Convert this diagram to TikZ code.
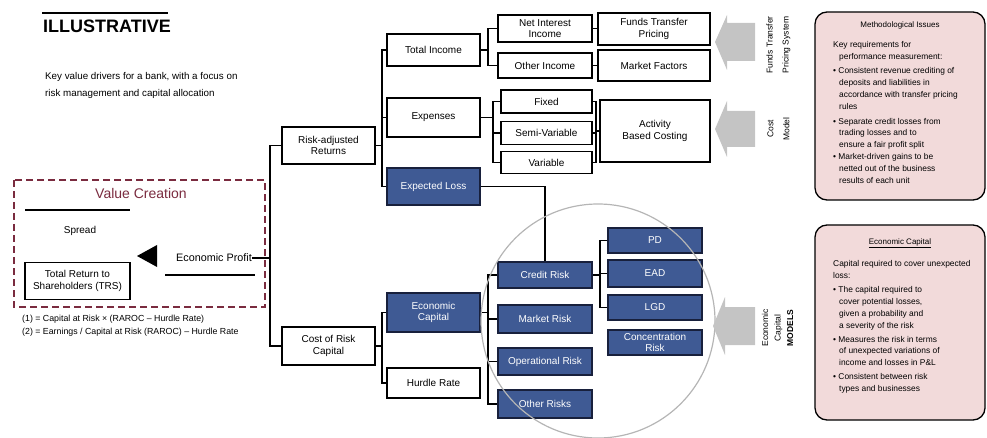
\documentclass[tikz,border=0pt]{standalone}
\usepackage{fontspec}
\setmainfont{Liberation Sans}
\definecolor{navy}{HTML}{3F5A94}
\definecolor{navyedge}{HTML}{18203C}
\definecolor{wine}{HTML}{7A2B3F}
\definecolor{pinkbg}{HTML}{F2DADA}
\definecolor{greyarrow}{HTML}{C4C4C4}
\definecolor{ringgrey}{HTML}{B5B5B5}
\begin{document}
\begin{tikzpicture}[x=1pt,y=-1pt,
  tbox/.style={draw=black, line width=1.6pt, fill=white, align=center, inner sep=1pt, font=\fontsize{10}{11.5}\selectfont},
  bbox/.style={tbox, draw=navyedge, fill=navy, text=white},
  conn/.style={line width=1.6pt},
  note/.style={draw=black, line width=1.3pt, fill=pinkbg, rounded corners=12pt},
  notetext/.style={anchor=north west, align=left, inner sep=0pt, font=\fontsize{8.4}{11.8}\selectfont},
  vlab/.style={rotate=90, align=center, inner sep=0pt, font=\fontsize{8.5}{16}\selectfont},
  plain/.style={inner sep=0pt, align=left},
]
\useasboundingbox (0,0) rectangle (987,438);

% header
\draw[line width=2pt] (42,13) -- (168,13);
\node[plain, anchor=west, font=\fontsize{18}{20}\selectfont\bfseries] (ill) at (43,26) {ILLUSTRATIVE};
\node[plain, anchor=north west, font=\fontsize{9.8}{17}\selectfont] (sub) at (45,72) {Key value drivers for a bank, with a focus on\\risk management and capital allocation};

% value creation frame
\draw[wine, line width=2.5pt, dash pattern=on 7pt off 4pt] (14,180) rectangle (265,307);
\node[plain, text=wine, font=\fontsize{14}{16}\selectfont] (vc) at (141,193) {Value Creation};
\draw[line width=1.6pt] (25,210) -- (130,210);
\node[plain, font=\fontsize{10}{11}\selectfont] (spread) at (80,231) {Spread};
\node[tbox, minimum width=105, minimum height=37] (trs) at (77.5,281) {Total Return to\\Shareholders (TRS)};
\fill (137,256) -- (157,245) -- (157,267) -- cycle;
\node[plain, font=\fontsize{10.8}{12}\selectfont] (ep) at (214,258) {Economic Profit};
\draw[line width=1.6pt] (165,275) -- (255,275);
\node[plain, anchor=north west, font=\fontsize{8.8}{12.5}\selectfont] (fn) at (22,315) {(1) = Capital at Risk × (RAROC – Hurdle Rate)\\(2) = Earnings / Capital at Risk (RAROC) – Hurdle Rate};

% tree level 1
\node[tbox, minimum width=93, minimum height=37] (rar) at (328.5,145.5) {Risk-adjusted\\Returns};
\node[tbox, minimum width=93, minimum height=38] (crc) at (328.5,346) {Cost of Risk\\Capital};
% level 2
\node[tbox, minimum width=93, minimum height=32] (ti) at (433.5,50) {Total Income};
\node[tbox, minimum width=93, minimum height=39] (ex) at (433.5,117.5) {Expenses};
\node[bbox, minimum width=93, minimum height=37] (el) at (433.5,186.5) {Expected Loss};
\node[bbox, minimum width=93, minimum height=39] (ec) at (433.5,312.5) {Economic\\Capital};
\node[tbox, minimum width=93, minimum height=30] (hr) at (433.5,383) {Hurdle Rate};
% level 3
\node[tbox, minimum width=94, minimum height=27] (nii) at (545,28.5) {Net Interest\\Income};
\node[tbox, minimum width=94, minimum height=25] (oi) at (545,65.5) {Other Income};
\node[tbox, minimum width=91, minimum height=23] (fx) at (546.5,101.5) {Fixed};
\node[tbox, minimum width=91, minimum height=23] (sv) at (546.5,133) {Semi-Variable};
\node[tbox, minimum width=91, minimum height=22] (va) at (546.5,162.5) {Variable};
\node[bbox, minimum width=94, minimum height=26] (cr) at (545,275) {Credit Risk};
\node[bbox, minimum width=94, minimum height=28] (mr) at (545,319) {Market Risk};
\node[bbox, minimum width=94, minimum height=27] (or) at (545,361.5) {Operational Risk};
\node[bbox, minimum width=94, minimum height=28] (ot) at (545,404) {Other Risks};
% level 4
\node[tbox, minimum width=112, minimum height=32] (ftp) at (654,29) {Funds Transfer\\Pricing};
\node[tbox, minimum width=112, minimum height=31] (mf) at (654,65.5) {Market Factors};
\node[tbox, minimum width=110, minimum height=62] (abc) at (655,131) {Activity\\Based Costing};
\node[bbox, minimum width=94, minimum height=25] (pd) at (655,240.5) {PD};
\node[bbox, minimum width=94, minimum height=27] (ead) at (655,273.5) {EAD};
\node[bbox, minimum width=94, minimum height=25] (lgd) at (655,307.5) {LGD};
\node[bbox, minimum width=94, minimum height=25] (conc) at (655,342.5) {Concentration\\Risk};

% connector junctions
\coordinate (j0) at (270,258);
\coordinate (j1) at (382,117.5);
\coordinate (j2) at (382,346);
\coordinate (j3) at (488,50);
\coordinate (j4) at (493,117.5);
\coordinate (j5) at (596,131);
\coordinate (j6) at (488,312.5);
\coordinate (j7) at (600,275);

\draw[conn] (ep) -- (j0);
\draw[conn] (rar.west) -| (j0) |- (crc.west);
\draw[conn] (rar.east) -- (rar.east -| j1);
\draw[conn] (ti.west) -| (j1) |- (el.west);
\draw[conn] (ex.west) -- (j1);
\draw[conn] (crc.east) -- (j2);
\draw[conn] (ec.west) -| (j2) |- (hr.west);
\draw[conn] (ti.east) -- (j3);
\draw[conn] (nii.west) -| (j3) |- (oi.west);
\draw[conn] (ex.east) -- (j4);
\draw[conn] (fx.west) -| (j4) |- (va.west);
\draw[conn] (sv.west) -- (sv.west -| j4);
\draw[conn] (fx.east) -| (j5) |- (va.east);
\draw[conn] (sv.east) -- (sv.east -| j5);
\draw[conn] (j5) -- (abc.west);
\draw[conn] (nii.east) -- (ftp.west |- nii.east);
\draw[conn] (oi.east) -- (mf.west);
\draw[conn] (ec.east) -- (j6);
\draw[conn] (cr.west) -| (j6) |- (ot.west);
\draw[conn] (mr.west) -- (mr.west -| j6);
\draw[conn] (or.west) -- (or.west -| j6);
\draw[conn] (el.east) -| (cr.north);
\draw[conn] (cr.east) -- (j7);
\draw[conn] (pd.west) -| (j7) |- (lgd.west);
\draw[conn] (ead.west) -- (ead.west -| j7);

% ring
\draw[ringgrey, line width=1.2pt] (598,321) circle (117);

% grey arrows
\fill[greyarrow] (755,23) -- (727,23) -- (727,15) -- (715,42) -- (727,70) -- (727,61) -- (755,61) -- cycle;
\fill[greyarrow] (755,111) -- (727,111) -- (727,101) -- (715,129) -- (727,157) -- (727,147) -- (755,147) -- cycle;
\fill[greyarrow] (755,307) -- (725,307) -- (725,297) -- (713,326) -- (725,355) -- (725,345) -- (755,345) -- cycle;

% vertical labels
\node[vlab] (v1) at (778.5,45) {Funds Transfer\\Pricing System};
\node[vlab] (v2) at (778.5,129) {Cost\\Model};
\node[vlab, font=\fontsize{8.5}{12.5}\selectfont] (v3) at (777.5,328) {Economic\\Capital\\\textbf{MODELS}};

% notes
\node[note, minimum width=170, minimum height=188] (n1) at (900,106) {};
\node[plain, font=\fontsize{8}{9}\selectfont] (n1t) at (900,25) {Methodological Issues};
\node[notetext] (n1b) at (833,41) {Key requirements for\\
\hspace*{6pt}performance measurement:\\[3pt]
\textbullet\ Consistent revenue crediting of\\
\hspace*{6pt}deposits and liabilities in\\
\hspace*{6pt}accordance with transfer pricing\\
\hspace*{6pt}rules\\[3pt]
\textbullet\ Separate credit losses from\\
\hspace*{6pt}trading losses and to\\
\hspace*{6pt}ensure a fair profit split\\
\textbullet\ Market-driven gains to be\\
\hspace*{6pt}netted out of the business\\
\hspace*{6pt}results of each unit};

\node[note, minimum width=170, minimum height=195] (n2) at (900,322.5) {};
\node[plain, font=\fontsize{8}{9}\selectfont] (n2t) at (900,243) {\underline{Economic Capital}};
\node[notetext] (n2b) at (833,260) {Capital required to cover unexpected\\
loss:\\[3pt]
\textbullet\ The capital required to\\
\hspace*{6pt}cover potential losses,\\
\hspace*{6pt}given a probability and\\
\hspace*{6pt}a severity of the risk\\[2pt]
\textbullet\ Measures the risk in terms\\
\hspace*{6pt}of unexpected variations of\\
\hspace*{6pt}income and losses in P\&L\\[2pt]
\textbullet\ Consistent between risk\\
\hspace*{6pt}types and businesses};
\end{tikzpicture}
\end{document}
